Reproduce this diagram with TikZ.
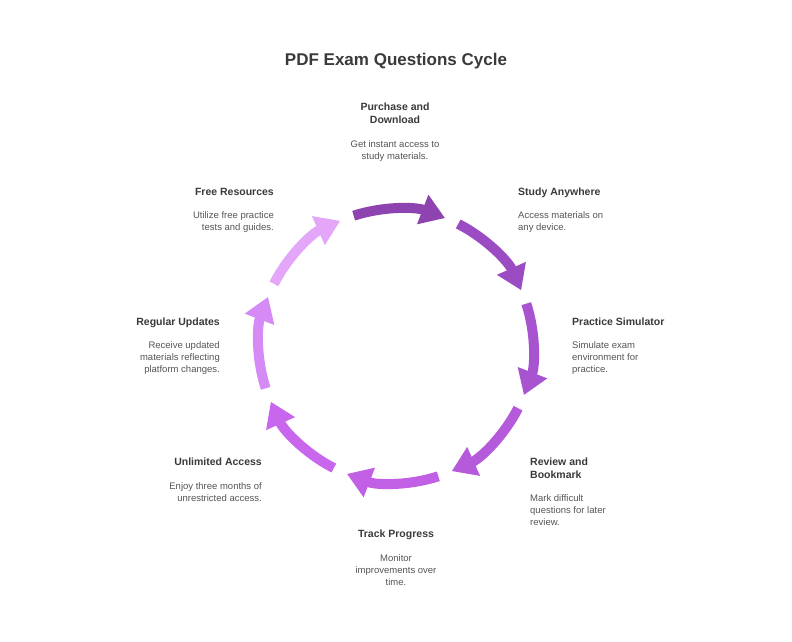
\documentclass[tikz,border=0pt]{standalone}
\usepackage{fontspec}
\setmainfont{Liberation Sans}
\usetikzlibrary{arrows.meta,calc}
\definecolor{tx}{HTML}{3A3A3A}
\definecolor{ds}{HTML}{555555}
\begin{document}
\begin{tikzpicture}[x=1pt,y=1pt,
  ttl/.style={font=\bfseries\fontsize{10.5}{13}\selectfont,text=tx,inner sep=0pt},
  dsc/.style={font=\fontsize{9.5}{12}\selectfont,text=ds,inner sep=0pt},
  arc/.style={line width=10pt,-{Triangle[length=24pt,width=30pt]}}]
\useasboundingbox[fill=white] (0,0) rectangle (792,642);
\coordinate (C) at (396,296);
\node[font=\bfseries\fontsize{17}{20}\selectfont,text=tx] (title) at (396,581) {PDF Exam Questions Cycle};
\foreach \k/\c in {0/8E44B0,1/9C4CC2,2/A853D0,3/B55ADB,4/C160E4,5/C866EE,6/D68AF5,7/E3A6F8}{
  \definecolor{ac}{HTML}{\c}
  \pgfmathsetmacro\s{90-45*\k+18}
  \pgfmathsetmacro\e{90-45*\k-21}
  \draw[arc,ac] ($(C)+(\s:137)$) arc[start angle=\s,end angle=\e,radius=137];
}
\node[ttl,align=center,anchor=north] (t1) at (395,539) {Purchase and\\Download};
\node[dsc,align=center,anchor=north] (d1) at (395,502) {Get instant access to\\study materials.};
\node[ttl,align=left,anchor=north west] (t2) at (518,454) {Study Anywhere};
\node[dsc,align=left,anchor=north west] (d2) at (518,431) {Access materials on\\any device.};
\node[ttl,align=left,anchor=north west] (t3) at (572,324) {Practice Simulator};
\node[dsc,align=left,anchor=north west] (d3) at (572,301) {Simulate exam\\environment for\\practice.};
\node[ttl,align=left,anchor=north west] (t4) at (530,184) {Review and\\Bookmark};
\node[dsc,align=left,anchor=north west] (d4) at (530,148) {Mark difficult\\questions for later\\review.};
\node[ttl,align=center,anchor=north] (t5) at (396,112) {Track Progress};
\node[dsc,align=center,anchor=north] (d5) at (396,88) {Monitor\\improvements over\\time.};
\node[ttl,align=right,anchor=north east] (t6) at (262,184) {Unlimited Access};
\node[dsc,align=right,anchor=north east] (d6) at (262,160) {Enjoy three months of\\unrestricted access.};
\node[ttl,align=right,anchor=north east] (t7) at (220,324) {Regular Updates};
\node[dsc,align=right,anchor=north east] (d7) at (220,301) {Receive updated\\materials reflecting\\platform changes.};
\node[ttl,align=right,anchor=north east] (t8) at (274,454) {Free Resources};
\node[dsc,align=right,anchor=north east] (d8) at (274,431) {Utilize free practice\\tests and guides.};
\end{tikzpicture}
\end{document}
